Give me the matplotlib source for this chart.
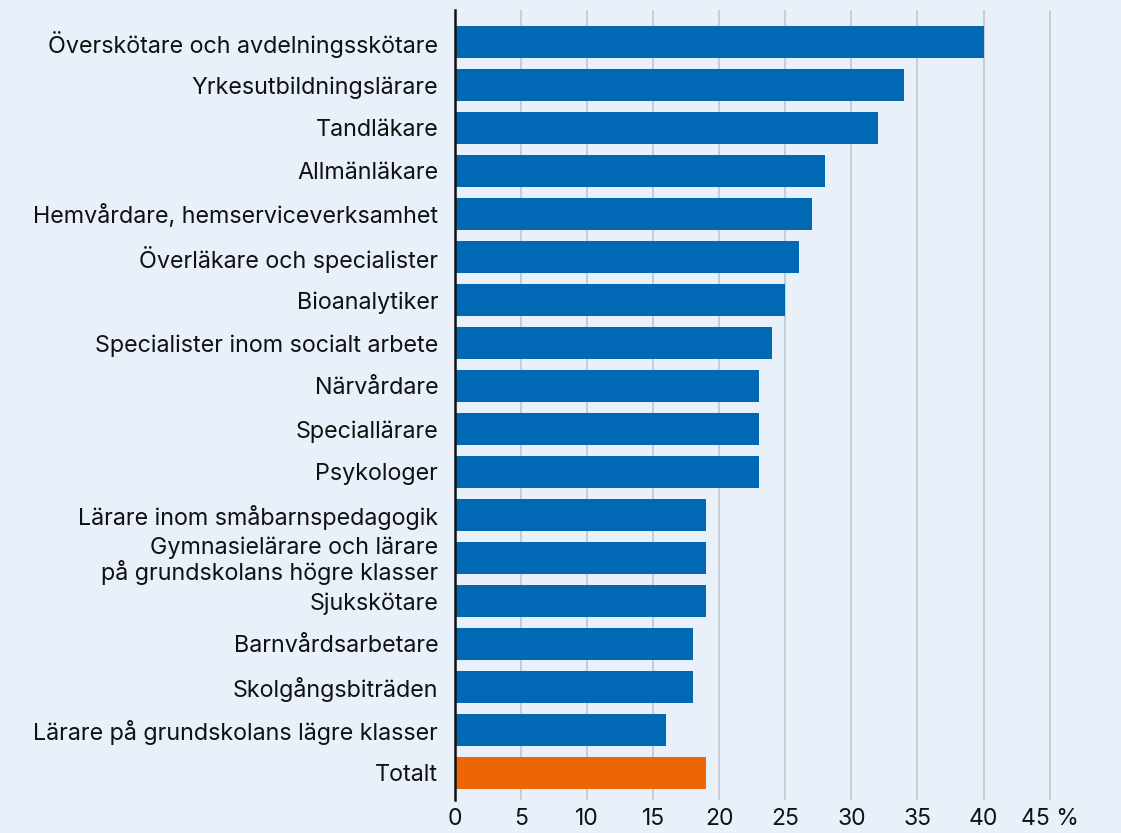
import matplotlib.pyplot as plt
import numpy as np

categories = [
    "Överskötare och avdelningsskötare",
    "Yrkesutbildningslärare",
    "Tandläkare",
    "Allmänläkare",
    "Hemvårdare, hemserviceverksamhet",
    "Överläkare och specialister",
    "Bioanalytiker",
    "Specialister inom socialt arbete",
    "Närvårdare",
    "Speciallärare",
    "Psykologer",
    "Lärare inom småbarnspedagogik",
    "Gymnasielärare och lärare\npå grundskolans högre klasser",
    "Sjukskötare",
    "Barnvårdsarbetare",
    "Skolgångsbiträden",
    "Lärare på grundskolans lägre klasser",
    "Totalt",
]
values = [40, 34, 32, 28, 27, 26, 25, 24, 23, 23, 23, 19, 19, 19, 18, 18, 16, 19]
xticks = [0, 5, 10, 15, 20, 25, 30, 35, 40, 45]
xtick_labels = ["0", "5", "10", "15", "20", "25", "30", "35", "40", "45 %"]

bg = "#e8f0fa"
blue = "#0068b4"
orange = "#ec6608"

plt.rcParams['font.family'] = ['Inter', 'DejaVu Sans']

fig = plt.figure(figsize=(11.21, 8.33), dpi=100, facecolor=bg)
ax = fig.add_axes([455 / 1121, 1 - 800 / 833, 621 / 1121, 790 / 833])
ax.set_facecolor(bg)

y = np.arange(len(categories))
colors = [blue] * (len(categories) - 1) + [orange]
ax.barh(y, values, height=0.75, color=colors, zorder=3)

ax.set_xlim(0, 47)
ax.set_ylim(len(categories) - 1 + 0.63, -0.74)
ax.set_yticks(y)
ax.set_yticklabels(categories, fontsize=16.8, color="#111111", linespacing=1.05)
ax.set_xticks(xticks)
ax.set_xticklabels(xtick_labels, fontsize=16.5, color="#111111")
ax.tick_params(axis="y", length=0, pad=12)
ax.tick_params(axis="x", length=0, pad=6)

ax.grid(axis="x", color="#c2c6cc", linewidth=1.2, zorder=0)
for s in ["top", "right", "bottom"]:
    ax.spines[s].set_visible(False)
ax.spines["left"].set_color("#111111")
ax.spines["left"].set_linewidth(1.8)
ax.spines["left"].set_zorder(4)

fig.savefig("out.png", dpi=100, facecolor=bg)
